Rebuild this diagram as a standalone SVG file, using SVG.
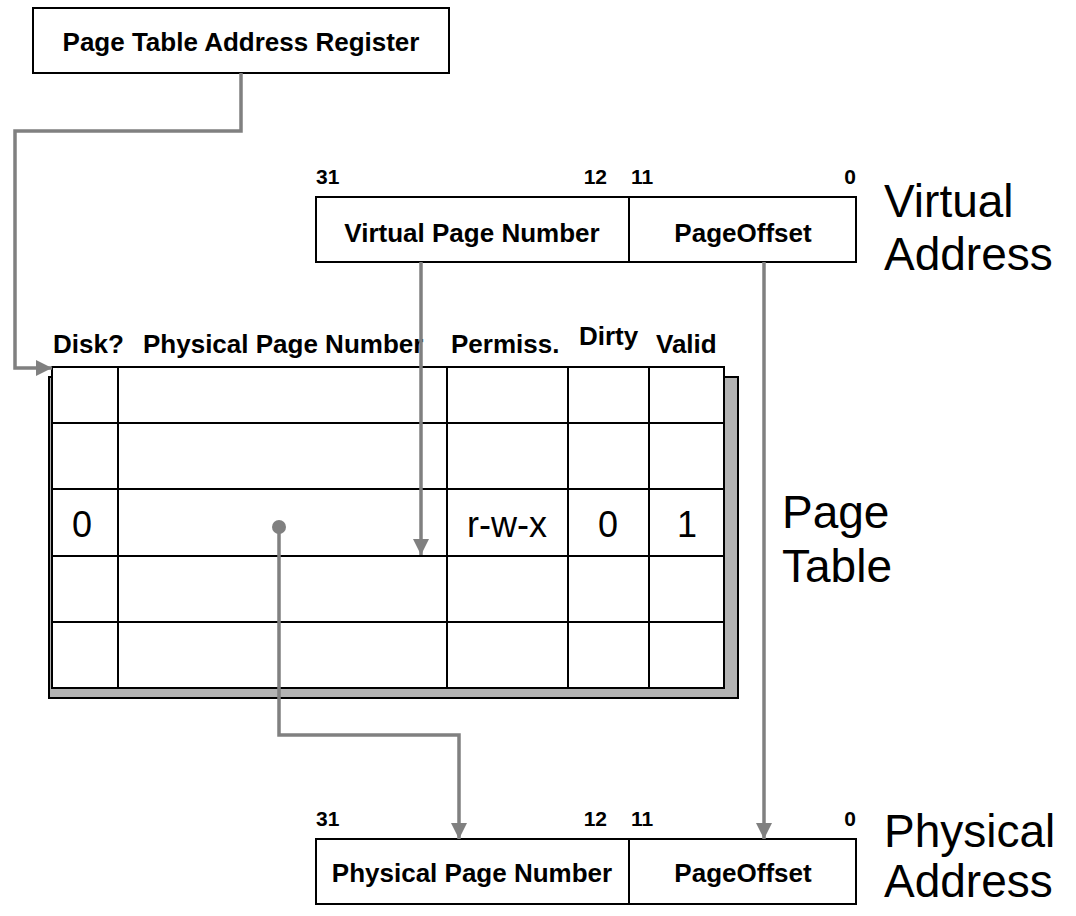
<svg xmlns="http://www.w3.org/2000/svg" width="1076" height="916" viewBox="0 0 1076 916">
<style>
.box{fill:#fff;stroke:#000;stroke-width:2}
.ln{stroke:#000;stroke-width:2;fill:none}
.b{font-family:"Liberation Sans",Arial,sans-serif;font-weight:bold;font-size:26px;fill:#000}
.bit{font-family:"Liberation Sans",Arial,sans-serif;font-weight:bold;font-size:21px;fill:#000}
.cell{font-family:"Liberation Sans",Arial,sans-serif;font-size:36px;fill:#000;text-anchor:middle}
.big{font-family:"Liberation Sans",Arial,sans-serif;font-size:46px;fill:#000}
.con{stroke:#808080;stroke-width:3.5;fill:none}
</style>
<defs>
<marker id="ah" markerWidth="17" markerHeight="16" refX="16" refY="8" orient="auto" markerUnits="userSpaceOnUse">
<path d="M0,0 L16,8 L0,16 Z" fill="#808080"/>
</marker>
</defs>
<rect width="1076" height="916" fill="#fff"/>

<g id="ptar">
<rect class="box" x="33" y="8" width="416" height="65"/>
<text class="b" x="241" y="51" text-anchor="middle">Page Table Address Register</text>
</g>

<g id="virtual-address">
<rect class="box" x="316" y="197" width="540" height="65"/>
<line class="ln" x1="629" y1="197" x2="629" y2="262"/>
<text class="b" x="472" y="242" text-anchor="middle">Virtual Page Number</text>
<text class="b" x="743" y="242" text-anchor="middle">PageOffset</text>
<text class="bit" x="316" y="184">31</text>
<text class="bit" x="607" y="184" text-anchor="end">12</text>
<text class="bit" x="631" y="184">11</text>
<text class="bit" x="856" y="184" text-anchor="end">0</text>
<text class="big" x="884" y="217">Virtual</text>
<text class="big" x="884" y="270">Address</text>
</g>

<g id="page-table">
<rect x="49" y="377" width="689" height="321" fill="#b3b3b3" stroke="#000" stroke-width="2"/>
<rect class="box" x="52" y="367" width="672" height="321"/>
<line class="ln" x1="52" y1="423" x2="724" y2="423"/>
<line class="ln" x1="52" y1="489" x2="724" y2="489"/>
<line class="ln" x1="52" y1="556" x2="724" y2="556"/>
<line class="ln" x1="52" y1="622" x2="724" y2="622"/>
<line class="ln" x1="118" y1="367" x2="118" y2="688"/>
<line class="ln" x1="447" y1="367" x2="447" y2="688"/>
<line class="ln" x1="568" y1="367" x2="568" y2="688"/>
<line class="ln" x1="649" y1="367" x2="649" y2="688"/>
<text class="b" x="53" y="353">Disk?</text>
<text class="b" x="143" y="353">Physical Page Number</text>
<text class="b" x="451" y="353">Permiss.</text>
<text class="b" x="579" y="345">Dirty</text>
<text class="b" x="656" y="353">Valid</text>
<text class="cell" x="82" y="537">0</text>
<text class="cell" x="507" y="537">r-w-x</text>
<text class="cell" x="608" y="537">0</text>
<text class="cell" x="687" y="537">1</text>
<text class="big" x="782" y="528">Page</text>
<text class="big" x="782" y="582">Table</text>
</g>

<g id="physical-address">
<rect class="box" x="316" y="839" width="540" height="65"/>
<line class="ln" x1="629" y1="839" x2="629" y2="904"/>
<text class="b" x="472" y="882" text-anchor="middle">Physical Page Number</text>
<text class="b" x="743" y="882" text-anchor="middle">PageOffset</text>
<text class="bit" x="316" y="826">31</text>
<text class="bit" x="607" y="826" text-anchor="end">12</text>
<text class="bit" x="631" y="826">11</text>
<text class="bit" x="856" y="826" text-anchor="end">0</text>
<text class="big" x="884" y="847">Physical</text>
<text class="big" x="884" y="897">Address</text>
</g>

<g id="connectors">
<path class="con" d="M241,73 V131 H15 V368 H52" marker-end="url(#ah)"/>
<path class="con" d="M421,262 V555" marker-end="url(#ah)"/>
<path class="con" d="M764,262 V839" marker-end="url(#ah)"/>
<circle cx="279" cy="527" r="7" fill="#808080"/>
<path class="con" d="M279,527 V735 H459 V839" marker-end="url(#ah)"/>
</g>
</svg>
